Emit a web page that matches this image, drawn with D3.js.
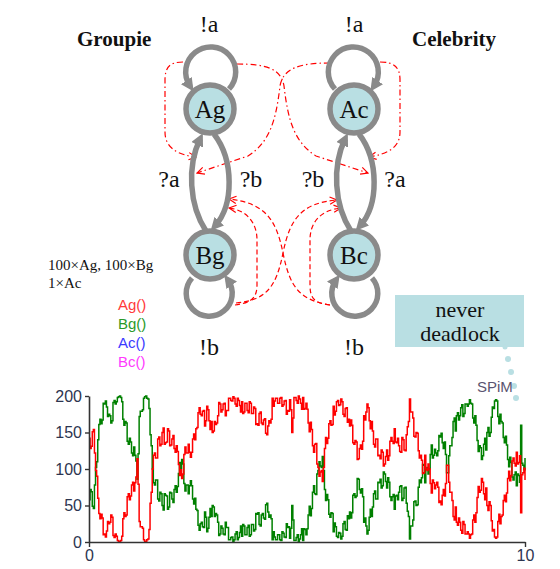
<!DOCTYPE html>
<html>
<head>
<meta charset="utf-8">
<script src="https://cdn.jsdelivr.net/npm/d3@7"></script>
<style>
  html, body { margin: 0; padding: 0; background: #fff; }
  svg { display: block; }
</style>
</head>
<body>
<svg id="fig" width="560" height="569"></svg>
<script>
// ---- Simulation output: population counts sampled every 0.025 time units ----
const sampleStep = 0.025;
const agCounts = [
  142,128,131,151,154,122,98,90,60,39,32,38,33,10,11,7,15,28,25,27,
  37,34,9,6,11,8,2,1,0,2,8,32,40,35,37,62,66,58,63,78,
  82,70,81,89,114,79,28,21,21,19,3,1,0,3,4,17,53,68,100,119,
  122,115,115,141,144,132,134,150,156,134,136,137,155,152,132,133,141,146,128,123,
  132,124,106,91,99,87,93,120,130,122,122,134,123,116,123,141,148,140,155,157,
  177,184,175,173,179,180,159,166,186,181,166,154,165,150,152,165,161,163,173,191,
  189,178,181,189,190,173,180,180,197,197,194,193,199,197,189,186,197,194,187,178,
  192,176,178,190,190,180,177,192,190,176,176,185,183,161,162,160,176,178,163,161,
  167,169,149,147,159,166,163,168,197,186,193,197,197,190,190,197,198,186,188,193,
  194,175,180,179,195,181,150,170,198,198,194,190,200,196,190,182,198,182,183,190,
  182,163,151,164,154,132,123,134,135,107,102,90,96,98,83,102,128,143,135,142,
  162,166,160,161,186,174,179,192,194,187,188,196,192,175,172,183,184,164,168,159,
  167,160,136,134,139,137,113,114,128,133,127,138,173,167,178,189,184,166,155,165,
  152,134,130,141,141,118,119,114,126,123,104,107,117,126,112,118,138,143,138,135,
  155,137,136,142,132,124,123,143,140,126,125,147,158,165,196,178,178,170,145,144,
  150,149,125,115,119,112,94,95,119,100,98,107,100,80,67,85,81,73,78,82,
  75,54,56,51,64,72,63,80,105,105,82,68,68,57,35,30,48,27,23,33,
  27,16,12,28,24,11,11,14,11,5,10,11,30,37,27,40,61,76,68,71,
  87,82,66,58,74,50,43,55,50,29,15,17,7,5,7,28,38,25,35,37,
  57,64,55,67,87,97,84,91,111,115,108,104,123,107,109,118,40,92,95,101,85
];
const bgCounts = [
  58,72,69,49,46,78,102,110,140,161,168,162,167,190,189,193,185,172,175,173,
  163,166,191,194,189,192,198,199,200,198,192,168,160,165,163,138,134,142,137,122,
  118,130,119,111,86,121,172,179,179,181,197,199,200,197,196,183,147,132,100,81,
  78,85,85,59,56,68,66,50,44,66,64,63,45,48,68,67,59,54,72,77,
  68,76,94,109,101,113,107,80,70,78,78,66,77,84,77,59,52,60,45,43,
  23,16,25,27,21,20,41,34,14,19,34,46,35,50,48,35,39,37,27,9,
  11,22,19,11,10,27,20,20,3,3,6,7,1,3,11,14,3,6,13,22,
  8,24,22,10,10,20,23,8,10,24,24,15,17,39,38,40,24,22,37,39,
  33,31,51,53,41,34,37,32,3,14,7,3,3,10,10,3,2,14,12,7,
  6,25,20,21,5,19,50,30,2,2,6,10,0,4,10,18,2,18,17,10,
  18,37,49,36,46,68,77,66,65,93,98,110,104,102,117,98,72,57,65,58,
  38,34,40,39,14,26,21,8,6,13,12,4,8,25,28,17,16,36,32,41,
  33,40,64,66,61,63,87,86,72,67,73,62,27,33,22,11,16,34,45,35,
  48,66,70,59,59,82,81,86,74,77,96,93,83,74,88,82,62,57,62,65,
  45,63,64,58,68,76,77,57,60,74,75,53,42,35,4,22,22,30,55,56,
  50,51,75,85,81,88,106,105,81,100,102,93,100,120,133,115,119,127,122,118,
  125,146,144,149,136,128,137,120,95,95,118,132,132,143,165,170,152,173,177,167,
  173,184,188,172,176,189,189,186,189,195,190,189,170,163,173,160,139,124,132,129,
  113,118,134,142,126,150,157,145,150,171,185,183,193,195,193,172,162,175,165,163,
  143,136,145,133,113,103,116,109,89,85,92,96,77,93,91,82,160,108,105,99,115
];
const yTickValues = [0, 50, 100, 150, 200];
const xTickValues = [0, 10];
const legendLabels = ["Ag()", "Bg()", "Ac()", "Bc()"];
const stateNames = ["Ag", "Bg", "Ac", "Bc"];

// ---- Styling / layout ----
const serif = "'Liberation Serif', 'Times New Roman', serif";
const sans = "'Liberation Sans', Arial, sans-serif";
const grey = "#8a8a8a";
const nodeFill = "#b9dfe3";
const legendColors = ["#ff3a3a", "#2a9a2a", "#3a3aff", "#ff3aff"];
const nodeXY = { Ag: [210, 109], Bg: [210, 255], Ac: [354, 109], Bc: [354, 255] };
const nodeR = 24;

const svg = d3.select("#fig");
const defs = svg.append("defs");

// Solid grey arrowhead for the transition arcs
defs.append("marker")
  .attr("id", "gArrow")
  .attr("viewBox", "0 0 12 12")
  .attr("refX", 6).attr("refY", 6)
  .attr("markerWidth", 13).attr("markerHeight", 13)
  .attr("markerUnits", "userSpaceOnUse")
  .attr("orient", "auto")
  .append("path")
  .attr("d", "M0,0 L12,6 L0,12 Z")
  .attr("fill", grey);

// Open red arrowhead for the synchronisation hints
defs.append("marker")
  .attr("id", "rArrow")
  .attr("viewBox", "0 0 10 10")
  .attr("refX", 9).attr("refY", 5)
  .attr("markerWidth", 9).attr("markerHeight", 9)
  .attr("markerUnits", "userSpaceOnUse")
  .attr("orient", "auto")
  .append("path")
  .attr("d", "M1,1 L9,5 L1,9")
  .attr("fill", "none")
  .attr("stroke", "#ff0000")
  .attr("stroke-width", 1.3);

// Soft edge for the plotted traces
defs.append("filter").attr("id", "soft")
  .append("feGaussianBlur").attr("stdDeviation", 0.3);

// ---- State diagram ----
const diagram = svg.append("g");

// Red synchronisation hints: !a loops -> ?a arcs (dash-dot), !b loops -> ?b arcs (dashed)
const dashDot = "6,3,1.5,3";
const dashed = "5,3";
const hints = [
  { d: "M183,62 C170,62 165,67 165,80 L165,132 C165,148 178,155 196,157", dash: dashDot },
  { d: "M237,64 C265,64 281,68 284,86 C288,120 294,142 316,156 L368,173", dash: dashDot },
  { d: "M330,63 C300,63 283,68 280,86 C276,120 270,142 248,156 L197,173", dash: dashDot },
  { d: "M380,62 C394,62 400,67 400,80 L400,132 C400,148 387,154 369,157", dash: dashDot },
  { d: "M235,305 C251,303 257,298 257,285 L257,240 C257,222 246,210 229,208", dash: dashed },
  { d: "M236,303 C266,300 276,288 283,253 C290,218 302,203 337,200", dash: dashed },
  { d: "M330,305 C300,300 290,288 283,253 C276,218 264,203 229,199", dash: dashed },
  { d: "M330,305 C314,303 310,298 310,285 L310,240 C310,222 321,210 341,208", dash: dashed }
];
diagram.selectAll("path.hint").data(hints).join("path")
  .attr("class", "hint")
  .attr("d", d => d.d)
  .attr("fill", "none")
  .attr("stroke", "#ff0000")
  .attr("stroke-width", 1.2)
  .attr("stroke-dasharray", d => d.dash)
  .attr("marker-end", "url(#rArrow)");

// Grey transitions: self loops and the lens-shaped arcs between states
const arcs = [
  "M229,89 A25,25 0 1 0 190,86",      // Ag !a
  "M335,89 A25,25 0 1 1 374,86",      // Ac !a
  "M192,278 A23,23 0 1 0 228,280",    // Bg !b
  "M372,278 A23,23 0 1 1 336,280",    // Bc !b
  "M206,231 C189,205 187,166 200,139", // Bg -> Ag (?a)
  "M214,134 C234,160 234,205 215,226", // Ag -> Bg (?b)
  "M351,231 C334,205 332,166 345,139", // Bc -> Ac (?b)
  "M359,134 C379,160 379,205 360,226"  // Ac -> Bc (?a)
];
diagram.selectAll("path.arc").data(arcs).join("path")
  .attr("class", "arc")
  .attr("d", d => d)
  .attr("fill", "none")
  .attr("stroke", grey)
  .attr("stroke-width", 5.5)
  .attr("marker-end", "url(#gArrow)");

// State nodes
const nodeG = diagram.selectAll("g.node").data(stateNames).join("g")
  .attr("class", "node")
  .attr("transform", d => `translate(${nodeXY[d][0]},${nodeXY[d][1]})`);
nodeG.append("circle")
  .attr("r", nodeR)
  .attr("fill", nodeFill)
  .attr("stroke", grey)
  .attr("stroke-width", 5.5);
nodeG.append("text")
  .attr("text-anchor", "middle")
  .attr("y", 9)
  .attr("font-family", serif)
  .attr("font-size", 25)
  .attr("fill", "#111")
  .text(d => d);

// Action labels
const actionLabels = [
  { t: "!a", x: 209, y: 32 }, { t: "!a", x: 354, y: 32 },
  { t: "?a", x: 169, y: 187 }, { t: "?b", x: 251, y: 187 },
  { t: "?b", x: 313, y: 187 }, { t: "?a", x: 395, y: 187 },
  { t: "!b", x: 209, y: 355 }, { t: "!b", x: 354, y: 355 }
];
diagram.selectAll("text.act").data(actionLabels).join("text")
  .attr("class", "act")
  .attr("x", d => d.x).attr("y", d => d.y)
  .attr("text-anchor", "middle")
  .attr("font-family", serif)
  .attr("font-size", 24)
  .attr("fill", "#111")
  .text(d => d.t);

// Process titles
diagram.append("text").attr("x", 77).attr("y", 46)
  .attr("font-family", serif).attr("font-size", 21).attr("font-weight", "bold")
  .attr("fill", "#111").text("Groupie");
diagram.append("text").attr("x", 412).attr("y", 46)
  .attr("font-family", serif).attr("font-size", 21).attr("font-weight", "bold")
  .attr("fill", "#111").text("Celebrity");

// Initial population
diagram.append("text").attr("x", 48).attr("y", 270)
  .attr("font-family", serif).attr("font-size", 15).attr("fill", "#111")
  .text("100×Ag, 100×Bg");
diagram.append("text").attr("x", 48).attr("y", 288)
  .attr("font-family", serif).attr("font-size", 15).attr("fill", "#111")
  .text("1×Ac");

// Callout
diagram.append("rect").attr("x", 395).attr("y", 295).attr("width", 129).attr("height", 52)
  .attr("fill", nodeFill);
diagram.append("text").attr("x", 460).attr("y", 317).attr("text-anchor", "middle")
  .attr("font-family", serif).attr("font-size", 22).attr("fill", "#111").text("never");
diagram.append("text").attr("x", 460).attr("y", 341).attr("text-anchor", "middle")
  .attr("font-family", serif).attr("font-size", 22).attr("fill", "#111").text("deadlock");
const bubbleDots = [[505, 347, 2.5], [508, 359, 3], [511, 372, 3], [514, 386, 3], [516, 398, 3]];
diagram.selectAll("circle.dot").data(bubbleDots).join("circle")
  .attr("class", "dot")
  .attr("cx", d => d[0]).attr("cy", d => d[1]).attr("r", d => d[2])
  .attr("fill", nodeFill);

// ---- Time-series plot (stochastic trajectories drawn as step functions) ----
const x = d3.scaleLinear().domain([0, 10]).range([89, 525]);
const y = d3.scaleLinear().domain([0, 200]).range([542, 396]);

const line = d3.line()
  .x((d, i) => x(i * sampleStep))
  .y(d => y(d))
  .curve(d3.curveStepAfter);

const plot = svg.append("g");
const traces = plot.append("g").attr("filter", "url(#soft)");
traces.append("path").datum(bgCounts)
  .attr("d", line).attr("fill", "none")
  .attr("stroke", "#008000").attr("stroke-width", 1.5);
traces.append("path").datum(agCounts)
  .attr("d", line).attr("fill", "none")
  .attr("stroke", "#ff0000").attr("stroke-width", 1.5);

const yAxis = plot.append("g").attr("transform", "translate(89,0)")
  .call(d3.axisLeft(y).tickValues(yTickValues).tickSize(4).tickSizeOuter(0).tickPadding(3));
const xAxis = plot.append("g").attr("transform", "translate(0,542)")
  .call(d3.axisBottom(x).tickValues(xTickValues).tickSize(5).tickSizeOuter(0).tickPadding(3));
[yAxis, xAxis].forEach(ax => {
  ax.select(".domain").attr("stroke", "#333").attr("stroke-width", 1.6);
  ax.selectAll(".tick line").attr("stroke", "#333").attr("stroke-width", 1.4);
  ax.selectAll(".tick text")
    .attr("font-family", sans).attr("font-size", 16).attr("fill", "#2d3550");
});

// Legend
plot.selectAll("text.leg").data(legendLabels).join("text")
  .attr("class", "leg")
  .attr("x", 118)
  .attr("y", (d, i) => 310 + i * 19)
  .attr("font-family", sans).attr("font-size", 15)
  .attr("fill", (d, i) => legendColors[i])
  .text(d => d);

// Tool credit
plot.append("text").attr("x", 477).attr("y", 392)
  .attr("font-family", sans).attr("font-size", 15).attr("fill", "#5a5470")
  .text("SPiM");
</script>
</body>
</html>
